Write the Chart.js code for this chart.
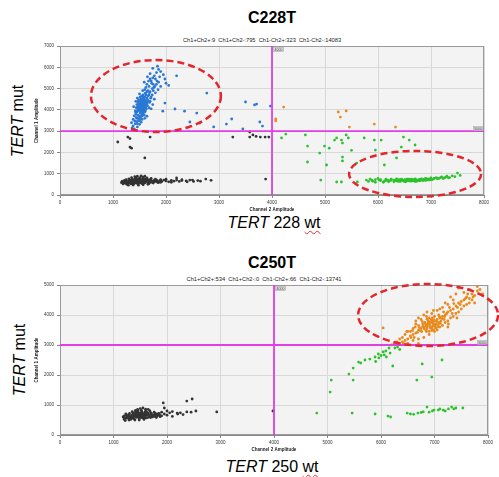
<!DOCTYPE html>
<html>
<head>
<meta charset="utf-8">
<script src="https://cdn.jsdelivr.net/npm/chart.js@4.4.1/dist/chart.umd.min.js"></script>
<style>
  body { margin: 0; background: #fff; width: 499px; height: 477px; position: relative; overflow: hidden;
         font-family: "Liberation Sans", Arial, sans-serif; }
  .t { position: absolute; white-space: nowrap; transform: translate(-50%, -50%); color: #000; }
  .ttl { font-weight: bold; font-size: 16px; }
  .sub { font-size: 5.7px; color: #222; }
  .wt { font-size: 16px; }
  .mut { font-size: 16px; transform: translate(-50%, -50%) rotate(-90deg); }
  .wavy { text-decoration: underline wavy #e03030; text-decoration-thickness: 1px; text-underline-offset: 2px; }
  canvas { position: absolute; left: 0; }
</style>
</head>
<body>
<div class="t ttl" style="left:272px;top:18px">C228T</div>
<div class="t sub" style="left:262px;top:40px">Ch1+Ch2+:9 &nbsp;Ch1+Ch2-:795 &nbsp;Ch1-Ch2+:323 &nbsp;Ch1-Ch2-:14083</div>
<div class="t mut" style="left:18px;top:121px"><i>TERT</i> mut</div>
<div class="t wt" style="left:274px;top:223px"><i>TERT</i> 228 <span class="wavy">wt</span></div>
<canvas id="c1" width="499" height="230" style="top:0"></canvas>

<div class="t ttl" style="left:272px;top:263px">C250T</div>
<div class="t sub" style="left:264px;top:279px">Ch1+Ch2+:534 &nbsp;Ch1+Ch2-:0 &nbsp;Ch1-Ch2+:66 &nbsp;Ch1-Ch2-:13741</div>
<div class="t mut" style="left:20px;top:360px"><i>TERT</i> mut</div>
<div class="t wt" style="left:272px;top:467px"><i>TERT</i> 250 <span class="wavy">wt</span></div>
<canvas id="c2" width="499" height="220" style="top:240px"></canvas>

<script>
// ---- data: [Channel 2 amplitude, Channel 1 amplitude] ----

// C228T
const c228Ch1Pos = [
  [1540,4200],[1560,4150],[1520,4250],[1580,4300],[1500,4100],[1600,4350],[1470,4000],[1620,4450],[1550,4050],[1530,4380],
  [1490,4280],[1570,3980],[1610,4120],[1450,3900],[1640,4550],[1510,3850],[1590,4480],[1480,4180],[1660,4650],[1430,3800],
  [1560,4600],[1500,3700],[1530,3950],[1580,4020],[1620,4250],[1460,4120],[1600,3900],[1550,4420],[1680,4700],[1440,3650],
  [1520,4500],[1570,4700],[1490,3600],[1650,4380],[1420,3950],[1590,3750],[1540,3820],[1630,4050],[1470,4350],[1510,4600],
  [1700,4850],[1660,4900],[1610,4780],[1400,3720],[1480,3500],[1550,3550],[1450,3450],[1420,3350],[1380,3250],[1360,3150],
  [1400,3100],[1460,3200],[1500,3320],[1530,3420],[1600,3600],[1640,3700],[1680,4100],[1700,4400],[1720,4600],[1740,5000],
  [1680,5100],[1760,5200],[1720,5350],[1800,5450],[1780,5600],[1650,5550],[1700,5700],[1820,5750],[1860,5900],[1900,5800],
  [1750,5950],[1950,5650],[1980,5450],[2000,5250],[1900,5100],[1850,4950],[1800,4800],[1780,4500],[1750,4250],[1720,4050],
  [1380,3550],[1350,3400],[1430,4400],[1390,4150],[1460,4550],[1500,4750],[1560,4900],[1620,5050],[1590,5300],[1640,5200],
  [1700,5450],[1880,5550],[1820,5200],[1770,5050],[1540,4020],[1560,4320],[1510,4080],[1580,4180],[1530,4140],[1570,4230],
  [1550,4280],[1520,4020],[1600,4200],[1490,4160],[1620,4350],[1540,4480],[1500,3950],[1560,3900],[1450,4250],[2200,5600],
  [2050,5150],[1840,6050],
  [1530,4300],[1550,4350],[1510,4200],[1570,4100],[1590,4050],[1480,4050],[1460,3950],[1500,4400],[1620,4150],[1640,4300],
  [1660,4450],[1600,4600],[1580,4560],[1540,4650],[1510,4420],[1480,4450],[1440,4100],[1430,3880],[1470,3750],[1520,3700],
  [1560,3750],[1610,3950],[1650,4200],[1690,4350],[1710,4550],[1690,4800],[1640,4850],[1600,4950],[1740,4700],[1760,4900],
  [1790,5100],[1830,5350],[1860,5300],[1730,5250],[1670,5350],[1750,5500],[1620,4700],[1580,4400],[1560,4500],[1540,3700],
  [1500,3500],[1460,3350],[1410,3480],[1520,3600],[1450,3600],[1570,3850],
  [2770,4790],[2350,3940],[2170,4040],[1980,4320],[1940,3940],[2450,3430],[2580,3850],[2640,3380],[3140,3330],[3240,3570],
  [3500,4370],[3710,4270],[3770,3430],[3820,3240],[3970,4180],[3670,4230],[3450,3100],[2900,3200]
];
const c228Double = [
  [4070,3570],[4220,4130],[5250,3900],[5400,3950],[5290,3660],[5460,3190],[5930,3330],[6330,3190],[4070,3480]
];
const c228Neg = [
  [1200,560],[1250,600],[1300,620],[1350,640],[1400,660],[1450,680],[1500,700],[1550,690],[1600,680],[1650,670],
  [1700,660],[1750,650],[1800,640],[1220,620],[1280,540],[1320,700],[1380,580],[1420,720],[1460,600],[1480,760],
  [1520,620],[1560,780],[1580,560],[1620,740],[1660,600],[1700,720],[1740,590],[1780,700],[1830,620],[1880,660],
  [1920,640],[1960,700],[2000,660],[2050,620],[2100,690],[2150,650],[2200,700],[2250,640],[2300,680],[2380,660],
  [2450,700],[2520,640],[2600,680],[2750,750],[2200,800],[2850,690],[3880,750],[1170,640],[1190,520],[1240,680],
  [1260,500],[1300,760],[1340,520],[1360,740],[1400,540],[1430,800],[1470,520],[1510,820],[1540,540],[1570,840],
  [1600,600],[1640,800],[1680,540],[1720,780],[1760,560],[1800,740],[1850,580],[1900,720],[1350,680],[1420,640],
  [1480,640],[1520,700],[1450,720],[1550,620],[1500,580],[1380,700],[1600,720],[1580,650],[1530,660],[1470,690],
  [1410,610],[1360,600],[1320,660],[1440,560],[1620,630],[1560,710],[1500,750],[1660,700],[1700,620],[1280,600],
  [1230,560],[1250,720],[1900,600],[2000,740],[2100,600],[2300,720],[2400,620],[2500,700],[2650,650],
  [1260,580],[1290,650],[1310,580],[1330,610],[1370,560],[1390,690],[1410,760],[1430,590],[1450,640],[1470,740],
  [1490,600],[1510,660],[1530,720],[1550,580],[1570,620],[1590,760],[1610,570],[1630,690],[1650,730],[1670,620],
  [1690,580],[1710,700],[1730,650],[1770,620],[1790,680],[1820,700],[1840,660],[1870,610],[1410,860],[1460,880],
  [1530,900],[1600,880],[1350,820],[1290,460],[1380,470],[1480,460],[1570,480],[1660,500],[1200,660],[1230,700],
  [1160,580],[1440,680],[1460,650],[1520,580],[1540,660],[1480,710],[1420,670],[1560,670],[1500,630],[1510,690],
  [1090,2490],[1280,2720],[1320,2250],[1350,2200],[1600,1740],[1700,2720],[3260,2720],[3580,2720],[3700,2750],[3780,2720],
  [3870,2720],[3580,2960],[3640,2820],[3940,2720],[1320,2650]
];
const c228Ch2Pos = [
  [5780,700],[5850,750],[5900,650],[5950,720],[6000,780],[6050,680],[6100,600],[6150,740],[6200,660],[6250,700],
  [6300,620],[6350,760],[6400,680],[6420,640],[6450,720],[6480,660],[6500,700],[6520,620],[6550,740],[6580,680],
  [6600,700],[6620,650],[6650,720],[6680,680],[6700,760],[6720,640],[6750,700],[6780,730],[6800,680],[6820,760],
  [6850,710],[6880,740],[6900,780],[6920,700],[6950,760],[6980,720],[7000,800],[7050,760],[7100,820],[7150,780],
  [7200,850],[7250,800],[7300,880],[7350,820],[7400,900],[7450,860],[7500,1030],[7550,920],[6300,700],[6350,660],
  [6400,720],[6450,680],[6500,640],[6550,700],[6600,660],[6650,680],[6700,700],[6750,660],[6800,720],[6850,680],
  [6900,700],[6950,720],[7000,740],[6250,740],[6200,620],[6150,680],[6050,720],[5950,600],[6550,660],[6620,720],
  [6700,640],[6470,700],[6580,740],[6680,720],[6780,690],[6520,680],[6620,690],[6720,680],[6420,700],[6380,640],
  [6330,690],[6370,720],[6410,660],[6440,740],[6460,700],[6490,680],[6510,720],[6530,660],[6560,690],[6590,720],
  [6610,680],[6630,740],[6640,700],[6660,660],[6690,700],[6710,720],[6730,700],[6760,680],[6790,700],[6810,740],
  [6830,700],[6860,720],[6890,690],[6910,760],[6930,720],[6960,700],[6990,760],[7020,720],[7060,780],[7120,760],
  [7180,820],[7230,770],[7280,840],[7330,800],[6230,680],[6180,700],[6120,650],[6020,700],[5880,700],[5820,640],
  [4180,2680],[4260,2860],[4630,2820],[4670,2300],[4670,1550],[4900,1970],[4990,2300],[5080,2200],[5180,2580],[5220,2680],
  [5310,2580],[5330,2440],[5400,2820],[5440,2680],[5330,1780],[5330,1600],[5030,1410],[4920,700],[5220,610],[5310,610],
  [5610,610],[5740,2680],[5930,2580],[5950,2110],[6060,2580],[6120,1410],[6350,1740],[6480,2720],[6440,2250],[6590,2580],
  [6700,2350],[5500,2100],[5600,1500]
];

// C250T
const c250Ch1Pos = [];
const c250Double = [
  [6900,3700],[6950,3750],[6850,3650],[7000,3800],[6800,3600],[7050,3850],[6750,3550],[7100,3900],[6700,3500],[6920,3600],
  [6980,3650],[6880,3800],[7020,3700],[6820,3750],[7080,3750],[6780,3700],[6940,3850],[6860,3550],[7060,3600],[6960,3900],
  [6700,3650],[7150,3950],[6650,3400],[7200,4000],[6600,3350],[7250,4100],[6550,3300],[7300,4150],[6500,3200],[7350,4200],
  [6450,3150],[7400,4300],[6400,3100],[7450,4400],[6350,3050],[7500,4450],[6300,3000],[7550,4500],[7600,4600],[7650,4550],
  [7700,4700],[7750,4650],[7800,4800],[7850,4850],[7500,4200],[7400,4050],[7300,3900],[7200,3750],[7100,3600],[7000,3450],
  [6900,3350],[6800,3250],[6700,3200],[6600,3150],[6500,3050],[6650,3700],[6750,3850],[6850,3950],[6950,4050],[7050,4150],
  [7150,4250],[7250,4350],[7350,4500],[6600,3550],[6550,3450],[6450,3350],[6400,3250],[6350,3200],[6250,3050],[6200,3000],
  [7150,3650],[7050,3500],[6950,3550],[6850,3450],[7250,3800],[7350,3950],[7450,4100],[7550,4300],[7650,4400],[7700,4500],
  [7750,4400],[7600,4350],[6800,4000],[6700,3900],[6650,3800],[7100,4200],[7200,4400],[7300,4600],[7400,4700],[7550,4750],
  [7450,4900],[7650,4850],[7900,4700],[7800,4950],[6900,3900],[6980,3500],[7120,3800],[6880,3700],[6920,3780],[6960,3620],
  [7030,3680],[6840,3620],[7000,3950],[6760,3450],[7080,4000],[6620,3250],[7180,3850],[6040,3570],[6480,3450],[6700,3050],
  [7250,3600],
  [6870,3620],[6910,3680],[6930,3560],[6890,3760],[6970,3720],[7010,3620],[7040,3780],[6830,3700],[6810,3540],[6990,3840],
  [7070,3680],[6950,3480],[6860,3860],[7110,3720],[6780,3620],[6730,3480],[6680,3420],[7140,3880],[7190,3950],[7230,4050],
  [7020,3560],[6900,3450],[6960,3800],[7000,3660],[6840,3480],[6720,3580],[6640,3600],[6560,3250],[6420,3050],[7280,4250],
  [7330,4050],[7430,4250],[7480,4350],[7580,4550],[7620,4700],[7720,4600],[7360,4380],[7170,4100],[7090,3950],[6770,3780],
  [6590,3480],[6980,4150],[6860,4100],[7260,3700],[7420,3900],[6500,3450],[6300,3100]
];
const c250Neg = [
  [1200,520],[1250,560],[1300,600],[1350,620],[1400,650],[1450,670],[1500,680],[1550,690],[1600,700],[1650,690],
  [1700,680],[1750,670],[1800,660],[1180,600],[1220,480],[1280,680],[1320,520],[1360,740],[1400,500],[1440,780],
  [1480,540],[1520,820],[1560,560],[1600,860],[1640,580],[1680,800],[1720,600],[1760,760],[1800,580],[1850,720],
  [1900,640],[1950,700],[2000,660],[2050,740],[2100,620],[2200,700],[2300,680],[1260,620],[1300,720],[1340,560],
  [1380,680],[1420,600],[1460,720],[1500,600],[1540,740],[1580,620],[1620,760],[1660,640],[1700,740],[1740,620],
  [1780,720],[1820,640],[1860,680],[1480,640],[1520,660],[1560,640],[1440,640],[1500,720],[1540,600],[1460,600],
  [1600,640],[1420,700],[1580,700],[1620,680],[1380,620],[1340,660],[1240,640],[1210,560],[1300,540],[1500,880],
  [1550,900],[1450,850],[1650,850],[1930,1070],[2370,1130],[2470,1200],[2370,770],[2540,800],[2930,770],[2190,730],
  [3980,800],[2100,780],[2250,740],[2450,760],[1950,900],[2000,800],[1900,760],
  [1260,580],[1290,650],[1310,580],[1330,610],[1370,560],[1390,690],[1410,760],[1430,590],[1450,640],[1470,740],
  [1490,600],[1510,660],[1530,720],[1550,580],[1570,620],[1590,760],[1610,570],[1630,690],[1650,730],[1670,620],
  [1690,580],[1710,700],[1730,650],[1770,620],[1790,680],[1820,700],[1840,660],[1870,610],[1410,820],[1460,800],
  [1530,780],[1600,800],[1350,780],[1290,500],[1380,540],[1480,500],[1570,520],[1200,640],[1230,700],[1440,680],
  [1460,650],[1520,580],[1540,660],[1480,710],[1420,670],[1560,670],[1500,630],[1510,690],[1470,600],[1530,620]
];
const c250Ch2Pos = [
  [4800,730],[5460,730],[5890,700],[6130,630],[6180,600],[6490,730],[6610,690],[6690,730],[6790,770],[6860,930],
  [6960,800],[6990,830],[7070,830],[7160,830],[7260,870],[7320,930],[7360,870],[7530,900],[6550,700],[6750,750],
  [6900,760],[7100,870],[7200,800],[7400,900],
  [5050,1430],[5070,1830],[5400,2030],[5480,2230],[5480,1830],[5580,2430],[5620,2400],[5790,2530],[5890,2600],[5950,2700],
  [5960,2570],[6040,2770],[6060,2670],[6090,2800],[6150,2900],[6170,2730],[6260,2900],[6310,2930],[6220,2300],[6770,2370],
  [7140,2500],[6670,1830],[6950,1930],[5900,2450],[6000,2650],[5700,2500],[6350,2850],[6100,2600]
];

const xTicks = [0, 1000, 2000, 3000, 4000, 5000, 6000, 7000, 8000];
const thresholds = { ch2: 4000, ch1: 3000 };

// circled clusters, in data units
const c228Rings = [
  { cx: 1810, cy: 4650, rx: 1226, ry: 1690 },
  { cx: 6700, cy: 990, rx: 1245, ry: 1080 }
];
const c250Rings = [
  { cx: 6880, cy: 4000, rx: 1308, ry: 1033 }
];

const COLORS = { ch1: '#2a78d6', dbl: '#e8891c', neg: '#333333', ch2: '#2cc22c' };

function toXY(pairs) { return pairs.map(p => ({ x: p[0], y: p[1] })); }

const decor = {
  id: 'decor',
  beforeDraw(chart) {
    const { ctx, chartArea: a } = chart;
    ctx.save();
    ctx.fillStyle = '#f3f3f3';
    ctx.fillRect(a.left, a.top, a.right - a.left, a.bottom - a.top);
    ctx.restore();
  },
  afterDatasetsDraw(chart, args, opts) {
    const { ctx, chartArea: a, scales: { x, y } } = chart;
    ctx.save();
    ctx.strokeStyle = '#9a9a9a';
    ctx.lineWidth = 1;
    ctx.strokeRect(a.left + 0.5, a.top + 0.5, a.right - a.left - 1, a.bottom - a.top - 1);

    // threshold lines
    const tx = x.getPixelForValue(thresholds.ch2);
    const ty = y.getPixelForValue(thresholds.ch1);
    ctx.strokeStyle = '#e23ee6';
    ctx.lineWidth = 1.8;
    ctx.beginPath();
    ctx.moveTo(tx, a.top); ctx.lineTo(tx, a.bottom);
    ctx.moveTo(a.left, ty); ctx.lineTo(a.right, ty);
    ctx.stroke();

    // threshold tags
    ctx.font = '3.5px "Liberation Sans", Arial';
    ctx.textBaseline = 'middle';
    ctx.textAlign = 'center';
    const tag = (bx, by, w, h, s) => {
      ctx.fillStyle = '#dcdcdc';
      ctx.fillRect(bx, by, w, h);
      ctx.strokeStyle = '#a0a0a0';
      ctx.lineWidth = 0.5;
      ctx.strokeRect(bx, by, w, h);
      ctx.fillStyle = '#555';
      ctx.fillText(s, bx + w / 2, by + h / 2 + 0.3);
    };
    tag(tx + 1.5, a.top + 1.5, 10, 4, String(thresholds.ch2));
    tag(a.right - 10.5, ty - 4.5, 9, 4, String(thresholds.ch1));

    // dashed rings
    ctx.strokeStyle = '#e3262b';
    ctx.lineWidth = 2.5;
    ctx.setLineDash([7, 4]);
    for (const r of opts.rings) {
      const cx = x.getPixelForValue(r.cx), cy = y.getPixelForValue(r.cy);
      const rx = Math.abs(x.getPixelForValue(r.cx + r.rx) - cx);
      const ry = Math.abs(y.getPixelForValue(r.cy + r.ry) - cy);
      ctx.beginPath();
      ctx.ellipse(cx, cy, rx, ry, 0, 0, Math.PI * 2);
      ctx.stroke();
    }
    ctx.restore();
  }
};

function makeChart(id, series, yMax, rings, padding) {
  const set = (data, color) => ({
    data: toXY(data), backgroundColor: color, borderWidth: 0, pointRadius: 1.4
  });
  const tickFont = { family: '"Liberation Sans", Arial', size: 4.5 };
  const titleFont = { family: '"Liberation Sans", Arial', size: 4.5, weight: 'bold' };
  new Chart(document.getElementById(id), {
    type: 'scatter',
    data: {
      datasets: [
        set(series.neg, COLORS.neg),
        set(series.ch2, COLORS.ch2),
        set(series.ch1, COLORS.ch1),
        set(series.dbl, COLORS.dbl)
      ]
    },
    plugins: [decor],
    options: {
      responsive: false,
      animation: false,
      devicePixelRatio: 1,
      layout: { padding },
      plugins: {
        legend: { display: false },
        tooltip: { enabled: false },
        decor: { rings }
      },
      scales: {
        x: {
          type: 'linear', min: 0, max: 8000,
          afterBuildTicks: s => { s.ticks = xTicks.map(v => ({ value: v })); },
          ticks: { font: tickFont, color: '#333', padding: 2, maxRotation: 0, autoSkip: false,
                   callback: v => String(v) },
          grid: { color: '#d8d8d8', tickLength: 3, tickColor: '#888' },
          border: { color: '#888' },
          title: { display: true, text: 'Channel 2 Amplitude', font: titleFont, color: '#222',
                   padding: { top: 0, bottom: 5 } },
          afterFit: s => { s.height = 22; }
        },
        y: {
          type: 'linear', min: 0, max: yMax,
          ticks: { stepSize: 1000, font: tickFont, color: '#333', padding: 3, autoSkip: false,
                   callback: v => String(v) },
          grid: { color: '#d8d8d8', tickLength: 3, tickColor: '#888' },
          border: { color: '#888' },
          title: { display: true, text: 'Channel 1 Amplitude', font: titleFont, color: '#222',
                   padding: { top: 4, bottom: 0 } },
          afterFit: s => { s.width = 30; }
        }
      }
    }
  });
}

makeChart('c1', { neg: c228Neg, ch2: c228Ch2Pos, ch1: c228Ch1Pos, dbl: c228Double }, 7000, c228Rings,
  { left: 30, right: 15, top: 46, bottom: 13 });
makeChart('c2', { neg: c250Neg, ch2: c250Ch2Pos, ch1: c250Ch1Pos, dbl: c250Double }, 5000, c250Rings,
  { left: 30, right: 11, top: 45, bottom: 3 });
</script>
</body>
</html>
